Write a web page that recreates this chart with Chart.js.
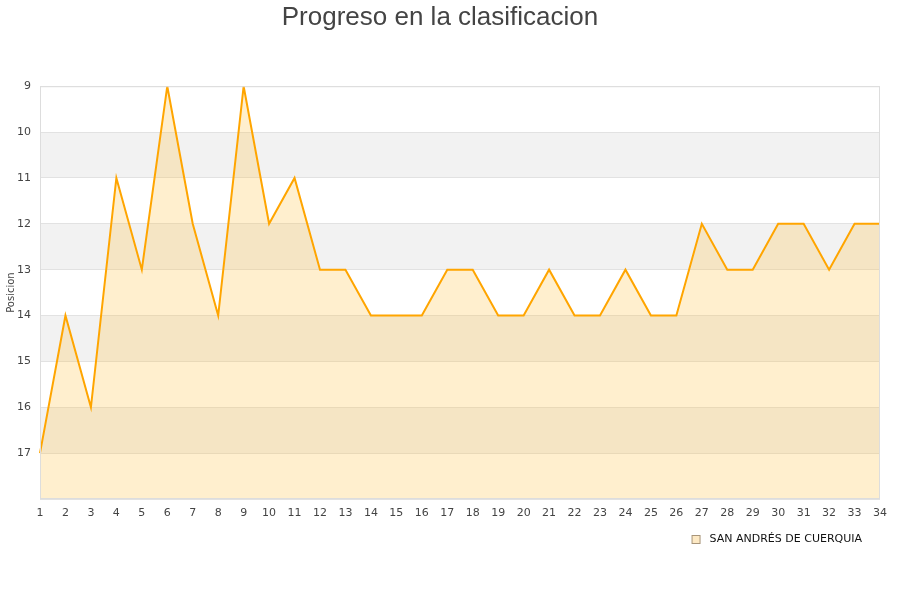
<!DOCTYPE html>
<html>
<head>
<meta charset="utf-8">
<script src="https://cdn.jsdelivr.net/npm/chart.js@4/dist/chart.umd.min.js"></script>
<style>
  html, body { margin: 0; padding: 0; background: #fff; }
  #wrap { width: 900px; height: 600px; }
</style>
</head>
<body>
<div id="wrap"><canvas id="posChart" width="900" height="600"></canvas></div>
<script>
// jornadas y posiciones
const jornadas = [1, 2, 3, 4, 5, 6, 7, 8, 9, 10, 11, 12, 13, 14, 15, 16, 17,
  18, 19, 20, 21, 22, 23, 24, 25, 26, 27, 28, 29, 30, 31, 32, 33, 34];
const posiciones = [17, 14, 16, 11, 13, 9, 12, 14, 9, 12, 11, 13, 13, 14, 14, 14, 13,
  13, 14, 14, 13, 14, 14, 13, 14, 14, 12, 13, 13, 12, 12, 13, 12, 12];
const equipo = 'SAN ANDRÉS DE CUERQUIA';
const posMin = 9;
const posMax = 18;

// bandas alternas de fondo + borde del area
const bandsPlugin = {
  id: 'bands',
  beforeDraw(chart) {
    const { ctx, chartArea, scales } = chart;
    const y = scales.y;
    ctx.save();
    for (let v = posMin + 1; v < posMax; v += 2) {
      const top = y.getPixelForValue(v);
      const bot = y.getPixelForValue(v + 1);
      ctx.fillStyle = '#f2f2f2';
      ctx.fillRect(chartArea.left, top, chartArea.right - chartArea.left, bot - top);
    }
    ctx.restore();
  },
  afterDatasetsDraw(chart) {
    const { ctx, chartArea } = chart;
    ctx.save();
    ctx.strokeStyle = '#dddddd';
    ctx.lineWidth = 1;
    ctx.strokeRect(chartArea.left + 0.5, chartArea.top + 0.5,
      chartArea.right - chartArea.left - 1, chartArea.bottom - chartArea.top - 1);
    ctx.restore();
  }
};

// leyenda propia abajo a la derecha
const legendPlugin = {
  id: 'miLeyenda',
  afterDraw(chart) {
    const { ctx, chartArea } = chart;
    const label = chart.data.datasets[0].label;
    ctx.save();
    ctx.font = '11px "DejaVu Sans"';
    ctx.textBaseline = 'middle';
    ctx.fillStyle = '#111';
    const w = ctx.measureText(label).width;
    const textX = chartArea.right - 18 - w;
    const cy = chartArea.bottom + 40;
    ctx.fillText(label, textX, cy);
    ctx.fillStyle = '#fde9c4';
    ctx.fillRect(textX - 17.5, cy - 3.5, 8, 8);
    ctx.strokeStyle = '#a8957a';
    ctx.lineWidth = 1;
    ctx.strokeRect(textX - 17.5, cy - 3.5, 8, 8);
    ctx.restore();
  }
};

const posChart = new Chart(document.getElementById('posChart'), {
  type: 'line',
  data: {
    labels: jornadas,
    datasets: [{
      label: equipo,
      data: posiciones,
      borderColor: '#ffa500',
      backgroundColor: 'rgba(255, 190, 60, 0.25)',
      borderWidth: 2,
      pointRadius: 0,
      tension: 0,
      fill: { value: posMax }
    }]
  },
  plugins: [bandsPlugin, legendPlugin],
  options: {
    responsive: false,
    animation: false,
    layout: {
      padding: { left: 0, right: 20, top: 0, bottom: 75 }
    },
    scales: {
      x: {
        offset: false,
        grid: { display: false, drawTicks: false },
        border: { display: false },
        ticks: {
          color: '#444',
          font: { family: 'DejaVu Sans', size: 11 },
          padding: 8,
          maxRotation: 0,
          autoSkip: false
        },
        afterFit: (s) => { s.height = 26; }
      },
      y: {
        reverse: true,
        min: posMin,
        max: posMax,
        grid: { color: '#e2e2e2', drawTicks: false },
        border: { display: false },
        ticks: {
          stepSize: 1,
          color: '#444',
          font: { family: 'DejaVu Sans', size: 11 },
          padding: 9,
          callback: (v) => (v === posMax ? '' : v)
        },
        title: {
          display: true,
          text: 'Posicion',
          color: '#444',
          font: { family: 'DejaVu Sans', size: 10 },
          padding: { top: 5, bottom: 0 }
        },
        afterFit: (s) => { s.width = 40; }
      }
    },
    plugins: {
      title: {
        display: true,
        text: 'Progreso en la clasificacion',
        color: '#444',
        font: { family: 'Liberation Sans', size: 26, weight: 'normal' },
        padding: { top: 2, bottom: 53 }
      },
      legend: { display: false },
      tooltip: { enabled: false }
    }
  }
});
</script>
</body>
</html>
